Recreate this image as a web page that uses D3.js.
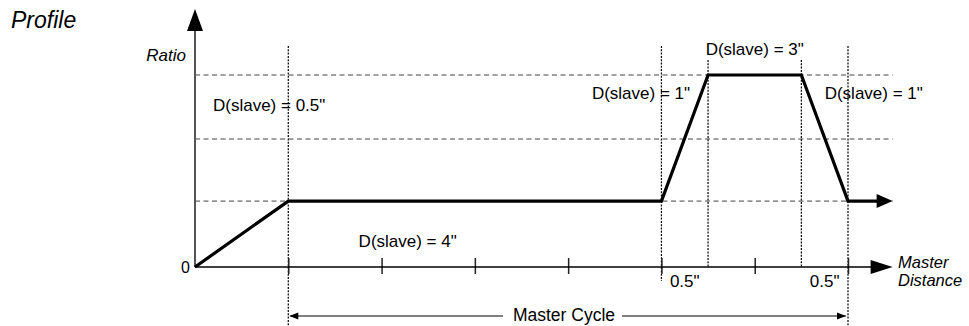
<!doctype html>
<html>
  <head>
    <meta charset="utf-8">
    <title>Profile</title>
    <script src="https://cdn.jsdelivr.net/npm/d3@7/dist/d3.min.js"></script>
    <style>
      html, body { margin: 0; padding: 0; background: #fff; }
      svg { display: block; }
      text { font-family: "Liberation Sans", Arial, Helvetica, sans-serif; fill: #000; }
      .it { font-style: italic; }
    </style>
  </head>
  <body>
    <svg id="chart" width="969" height="326"></svg>
<script>
// profile breakpoints: master distance vs. ratio
var masterPos = [0, 1, 5, 5.5, 6.5, 7, 7.5];
var ratioVal  = [0, 1.03, 1.03, 3, 3, 1.03, 1.03];
var gridRatio = [1.03, 2, 3];
var tickPos   = [1, 2, 3, 4, 5, 6, 7];
var markers   = [1, 5, 5.5, 6.5, 7];
var slaveLabels = ['D(slave) = 0.5"', 'D(slave) = 4"', 'D(slave) = 1"', 'D(slave) = 3"', 'D(slave) = 1"'];
var halfLabels  = ['0.5"', '0.5"'];

var svg = d3.select('#chart');
var x = d3.scaleLinear().domain([0, 7]).range([195, 848]);
var y = d3.scaleLinear().domain([0, 3]).range([267, 75]);
var xEnd = x(7.5) - 2;

// dashed ratio levels
svg.append('g').selectAll('line').data(gridRatio).join('line')
    .attr('x1', x(0)).attr('x2', xEnd)
    .attr('y1', d => y(d)).attr('y2', d => y(d))
    .attr('stroke', '#444').attr('stroke-width', 1)
    .attr('stroke-dasharray', '5,3.5');

// dotted marker lines
function dotted(v, y1, y2) {
  svg.append('line')
    .attr('x1', x(v)).attr('x2', x(v)).attr('y1', y1).attr('y2', y2)
    .attr('stroke', '#000').attr('stroke-width', 1.2)
    .attr('stroke-dasharray', '2,1.3');
}
dotted(markers[0], 46, 326);
dotted(markers[1], 46, 281);
dotted(markers[2], 60, 267);
dotted(markers[3], 60, 267);
dotted(markers[4], 46, 326);

// y axis with arrow
svg.append('line')
    .attr('x1', x(0)).attr('x2', x(0)).attr('y1', 28).attr('y2', y(0))
    .attr('stroke', '#555').attr('stroke-width', 2);
svg.append('path')
    .attr('d', d3.line()([[x(0), 9], [x(0) - 8, 31], [x(0) + 8, 31]]) + 'Z')
    .attr('fill', '#000');

// x axis
var axis = d3.axisBottom(x).tickValues(tickPos).tickSize(7).tickFormat('');
var gx = svg.append('g').attr('transform', 'translate(0,' + y(0) + ')').call(axis);
gx.select('.domain').remove();
gx.selectAll('.tick line').attr('y1', -9).attr('stroke', '#222').attr('stroke-width', 1.5);
svg.append('line')
    .attr('x1', x(0)).attr('x2', xEnd - 18).attr('y1', y(0)).attr('y2', y(0))
    .attr('stroke', '#000').attr('stroke-width', 1.5);
svg.append('path')
    .attr('d', d3.line()([[xEnd, y(0)], [xEnd - 22, y(0) - 7], [xEnd - 22, y(0) + 7]]) + 'Z')
    .attr('fill', '#000');

// profile line
var pts = masterPos.map((m, i) => [x(m), y(ratioVal[i])]);
pts[pts.length - 1][0] = xEnd - 14;
svg.append('path')
    .attr('d', d3.line()(pts))
    .attr('fill', 'none').attr('stroke', '#000').attr('stroke-width', 3.2)
    .attr('stroke-linejoin', 'miter');
var py = y(ratioVal[ratioVal.length - 1]);
svg.append('path')
    .attr('d', d3.line()([[xEnd, py], [xEnd - 16, py - 7], [xEnd - 16, py + 7]]) + 'Z')
    .attr('fill', '#000');

// master cycle dimension
var cy = 316;
svg.append('line')
    .attr('x1', x(1) + 2).attr('x2', x(7) - 2).attr('y1', cy).attr('y2', cy)
    .attr('stroke', '#000').attr('stroke-width', 1.2);
svg.append('path')
    .attr('d', d3.line()([[x(1) + 1, cy], [x(1) + 10, cy - 3.5], [x(1) + 10, cy + 3.5]]) + 'Z')
    .attr('fill', '#000');
svg.append('path')
    .attr('d', d3.line()([[x(7) - 2, cy], [x(7) - 11, cy - 3.5], [x(7) - 11, cy + 3.5]]) + 'Z')
    .attr('fill', '#000');
svg.append('rect')
    .attr('x', 503).attr('y', cy - 12).attr('width', 119).attr('height', 24)
    .attr('fill', '#fff');
svg.append('text')
    .attr('x', 564).attr('y', 321).attr('text-anchor', 'middle')
    .style('font-size', '17.5px').text('Master Cycle');

// labels
svg.append('text').attr('class', 'it').attr('x', 11).attr('y', 28)
    .style('font-size', '23px').text('Profile');
svg.append('text').attr('class', 'it').attr('x', 186).attr('y', 61)
    .attr('text-anchor', 'end').style('font-size', '17px').text('Ratio');
svg.append('text').attr('class', 'it').attr('x', 898).attr('y', 268)
    .style('font-size', '16.5px').text('Master');
svg.append('text').attr('class', 'it').attr('x', 898).attr('y', 286)
    .style('font-size', '16.5px').text('Distance');
svg.append('text').attr('x', 190).attr('y', 273)
    .attr('text-anchor', 'end').style('font-size', '16px').text('0');

function label(t, px, py, anchor) {
  svg.append('text').attr('x', px).attr('y', py)
      .attr('text-anchor', anchor || 'start')
      .style('font-size', '17px').text(t);
}
label(slaveLabels[0], x(0) + 18, 111);
label(slaveLabels[1], x(2.28), 247, 'middle');
label(slaveLabels[2], x(5.5) - 18, 99, 'end');
label(slaveLabels[3], x(6), 55, 'middle');
label(slaveLabels[4], x(6.75), 99);
label(halfLabels[0], x(5.25), 287, 'middle');
label(halfLabels[1], x(6.75), 287, 'middle');
</script>
  </body>
</html>
